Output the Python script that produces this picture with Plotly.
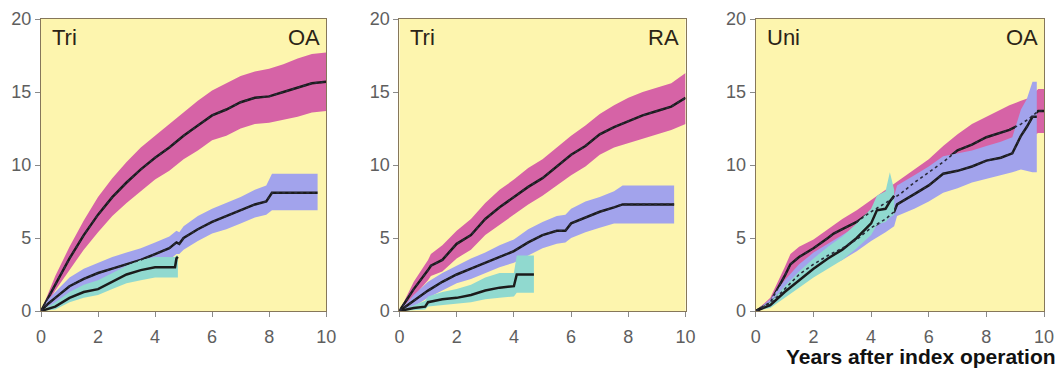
import plotly.graph_objects as go

# ---------------- data ----------------
titles_left = ["Tri", "Tri", "Uni"]
titles_right = ["OA", "RA", "OA"]
x_ticks = [0, 2, 4, 6, 8, 10]
y_ticks = [0, 5, 10, 15, 20]
x_label = "Years after index operation"

# Panel 1 (Tri / OA)
p1_pink_t = [0, 0.25, 0.5, 1, 1.5, 2, 2.5, 3, 3.5, 4, 4.5, 5, 5.5, 6, 6.5, 7, 7.5, 8, 8.5, 9, 9.5, 10]
p1_pink_c = [0, 0.9, 1.9, 3.6, 5.2, 6.6, 7.8, 8.8, 9.7, 10.5, 11.2, 12.0, 12.7, 13.4, 13.8, 14.3, 14.6, 14.7, 15.0, 15.3, 15.6, 15.7]
p1_pink_u = [0, 1.2, 2.4, 4.4, 6.2, 7.8, 9.1, 10.2, 11.2, 12.0, 12.8, 13.6, 14.4, 15.1, 15.6, 16.1, 16.4, 16.6, 16.9, 17.3, 17.6, 17.7]
p1_pink_l = [0, 0.6, 1.4, 2.8, 4.2, 5.4, 6.5, 7.4, 8.2, 9.0, 9.6, 10.4, 11.0, 11.7, 12.0, 12.5, 12.8, 12.9, 13.1, 13.3, 13.6, 13.7]

p1_blue_t = [0, 0.25, 0.5, 1, 1.5, 2, 2.5, 3, 3.5, 4, 4.5, 4.75, 4.85, 5, 5.5, 6, 6.5, 7, 7.5, 7.9, 8.1, 9.7]
p1_blue_c = [0, 0.5, 0.9, 1.7, 2.2, 2.6, 2.9, 3.2, 3.5, 3.9, 4.3, 4.7, 4.6, 5.0, 5.6, 6.1, 6.5, 6.9, 7.3, 7.5, 8.1, 8.1]
p1_blue_u = [0, 0.8, 1.3, 2.3, 2.9, 3.3, 3.7, 4.0, 4.3, 4.7, 5.1, 5.5, 5.4, 5.8, 6.5, 7.0, 7.4, 7.8, 8.3, 8.6, 9.4, 9.4]
p1_blue_l = [0, 0.3, 0.5, 1.1, 1.5, 1.9, 2.2, 2.5, 2.8, 3.2, 3.5, 3.9, 3.9, 4.2, 4.8, 5.3, 5.6, 6.0, 6.4, 6.6, 6.9, 6.9]

p1_cyan_t = [0, 0.5, 1, 1.5, 2, 2.5, 3, 3.5, 4, 4.3, 4.7, 4.75, 4.8]
p1_cyan_c = [0, 0.3, 0.9, 1.3, 1.5, 2.0, 2.5, 2.8, 3.0, 3.0, 3.0, 3.6, 3.7]
p1_cyan_u = [0, 0.6, 1.3, 1.8, 2.1, 2.6, 3.1, 3.5, 3.7, 3.7, 3.7, 3.8, 3.8]
p1_cyan_l = [0, 0.1, 0.6, 0.9, 1.1, 1.5, 1.9, 2.1, 2.3, 2.3, 2.3, 2.3, 2.3]

# Panel 2 (Tri / RA)
p2_pink_t = [0, 0.5, 1, 1.1, 1.5, 2, 2.5, 3, 3.5, 4, 4.5, 5, 5.5, 6, 6.5, 7, 7.5, 8, 8.5, 9, 9.5, 10]
p2_pink_c = [0, 1.5, 2.8, 3.1, 3.5, 4.6, 5.2, 6.3, 7.1, 7.8, 8.5, 9.1, 9.9, 10.7, 11.3, 12.1, 12.6, 13.0, 13.4, 13.7, 14.0, 14.6]
p2_pink_u = [0, 2.0, 3.5, 3.9, 4.5, 5.5, 6.3, 7.4, 8.3, 9.0, 9.8, 10.4, 11.2, 12.0, 12.7, 13.5, 14.1, 14.6, 15.0, 15.3, 15.6, 16.3]
p2_pink_l = [0, 1.0, 2.1, 2.4, 2.7, 3.6, 4.2, 5.2, 5.9, 6.6, 7.3, 7.9, 8.6, 9.3, 9.9, 10.7, 11.2, 11.5, 11.8, 12.1, 12.4, 12.8]

p2_blue_t = [0, 0.5, 1, 1.5, 2, 2.5, 3, 3.5, 4, 4.5, 5, 5.5, 5.8, 6, 6.5, 7, 7.5, 7.8, 9.6]
p2_blue_c = [0, 0.7, 1.4, 2.0, 2.5, 2.9, 3.3, 3.7, 4.1, 4.7, 5.2, 5.5, 5.5, 6.0, 6.4, 6.8, 7.1, 7.3, 7.3]
p2_blue_u = [0, 1.1, 2.0, 2.6, 3.1, 3.6, 4.0, 4.5, 4.9, 5.6, 6.1, 6.5, 6.6, 7.0, 7.5, 7.8, 8.2, 8.6, 8.6]
p2_blue_l = [0, 0.3, 0.9, 1.4, 1.9, 2.2, 2.6, 3.0, 3.3, 3.8, 4.3, 4.6, 4.7, 5.0, 5.4, 5.7, 6.0, 6.0, 6.0]

p2_cyan_t = [0, 0.5, 0.9, 1, 1.5, 2, 2.5, 3, 3.5, 4, 4.1, 4.7]
p2_cyan_c = [0, 0.2, 0.3, 0.6, 0.8, 0.9, 1.1, 1.4, 1.6, 1.7, 2.5, 2.5]
p2_cyan_u = [0, 0.4, 0.7, 1.0, 1.3, 1.5, 1.8, 2.3, 2.6, 2.6, 3.8, 3.8]
p2_cyan_l = [0, 0.05, 0.1, 0.3, 0.4, 0.5, 0.6, 0.8, 0.9, 1.0, 1.25, 1.25]

# Panel 3 (Uni / OA)
p3_pink_t = [0, 0.5, 1, 1.2, 1.5, 2, 2.5, 2.7, 3, 3.5, 4, 4.5, 5, 5.5, 6, 6.5, 7, 7.5, 8, 8.5, 8.8, 9.2, 9.5, 9.8, 10]
p3_pink_c = [0, 0.6, 2.4, 3.2, 3.7, 4.3, 5.0, 5.3, 5.6, 6.1, 6.8, 7.4, 8.0, 8.8, 9.5, 10.2, 11.0, 11.4, 11.9, 12.2, 12.4, 12.8, 13.2, 13.7, 13.7]
p3_pink_u = [0, 0.9, 3.0, 3.9, 4.4, 4.9, 5.6, 5.9, 6.3, 6.9, 7.6, 8.3, 9.0, 9.7, 10.4, 11.3, 12.1, 12.8, 13.3, 13.8, 14.1, 14.4, 14.6, 15.2, 15.2]
p3_pink_l = [0, 0.3, 1.8, 2.5, 3.0, 3.7, 4.4, 4.7, 4.9, 5.3, 6.0, 6.5, 7.0, 8.0, 8.7, 9.4, 10.3, 10.6, 10.9, 11.0, 11.1, 11.5, 11.9, 12.2, 12.2]

p3_blue_t = [0, 0.5, 1, 1.5, 2, 2.5, 3, 3.5, 4, 4.5, 4.8, 4.9, 5.5, 6, 6.5, 7, 7.5, 8, 8.5, 8.9, 9.2, 9.4, 9.6, 9.75]
p3_blue_c = [0, 0.5, 1.5, 2.5, 3.2, 3.8, 4.3, 4.9, 5.7, 6.3, 6.8, 7.3, 8.0, 8.6, 9.4, 9.6, 9.9, 10.3, 10.5, 10.8, 12.0, 12.6, 13.3, 13.3]
p3_blue_u = [0, 0.8, 2.1, 3.2, 4.0, 4.6, 5.2, 5.8, 6.7, 7.3, 7.9, 8.6, 9.3, 9.9, 10.6, 10.8, 11.0, 11.3, 11.6, 11.9, 13.8, 14.5, 15.7, 15.7]
p3_blue_l = [0, 0.3, 1.0, 1.9, 2.5, 3.1, 3.5, 4.1, 4.8, 5.4, 5.8, 6.5, 7.0, 7.5, 8.1, 8.4, 8.8, 9.1, 9.3, 9.5, 9.7, 9.6, 9.5, 9.5]

p3_cyan_t = [0, 0.5, 1, 1.5, 2, 2.5, 3, 3.5, 4, 4.2, 4.5, 4.65, 4.8]
p3_cyan_c = [0, 0.4, 1.3, 2.1, 2.9, 3.6, 4.2, 5.0, 6.0, 6.9, 7.0, 7.5, 7.9]
p3_cyan_u = [0, 0.6, 1.7, 2.7, 3.6, 4.4, 5.1, 6.0, 7.0, 7.9, 8.2, 9.5, 8.3]
p3_cyan_l = [0, 0.2, 0.9, 1.6, 2.3, 2.9, 3.5, 4.3, 5.2, 5.9, 6.1, 6.4, 6.6]

panels = [
    [(p1_pink_t, p1_pink_c, p1_pink_u, p1_pink_l),
     (p1_blue_t, p1_blue_c, p1_blue_u, p1_blue_l),
     (p1_cyan_t, p1_cyan_c, p1_cyan_u, p1_cyan_l)],
    [(p2_pink_t, p2_pink_c, p2_pink_u, p2_pink_l),
     (p2_blue_t, p2_blue_c, p2_blue_u, p2_blue_l),
     (p2_cyan_t, p2_cyan_c, p2_cyan_u, p2_cyan_l)],
    [(p3_pink_t, p3_pink_c, p3_pink_u, p3_pink_l),
     (p3_blue_t, p3_blue_c, p3_blue_u, p3_blue_l),
     (p3_cyan_t, p3_cyan_c, p3_cyan_u, p3_cyan_l)],
]

# ---------------- styling ----------------
band_colors = ["#d663a6", "#a2a3ec", "#90d9cf"]
bg_color = "#fdf5ae"
frame_color = "#86775a"
tick_color = "#5e5e5e"
line_color = "#1b1b1b"
font_family = "Liberation Sans, Arial, sans-serif"

W, H = 1063, 368
ML, MR, MT, MB = 41, 9, 18, 57
plot_w = W - ML - MR
domains = [
    [0.0, 288 / plot_w],
    [(403 - ML) / plot_w, (692 - ML) / plot_w],
    [(763 - ML) / plot_w, 1.0],
]

fig = go.Figure()

for i, series in enumerate(panels):
    xa = "x" if i == 0 else f"x{i+1}"
    ya = "y" if i == 0 else f"y{i+1}"
    for (t, c, u, l), col in zip(series, band_colors):
        fig.add_trace(go.Scatter(
            x=list(t) + list(t)[::-1], y=list(u) + list(l)[::-1],
            fill="toself", fillcolor=col, line=dict(width=0, color=col),
            mode="lines", hoverinfo="skip", showlegend=False, xaxis=xa, yaxis=ya))
        fig.add_trace(go.Scatter(
            x=t, y=c, mode="lines", line=dict(color=line_color, width=2.5),
            showlegend=False, xaxis=xa, yaxis=ya))
    # lines hidden beneath later bands show through as dotted
    for (t, c, u, l) in series[:2]:
        fig.add_trace(go.Scatter(
            x=t, y=c, mode="lines", line=dict(color="#2a2a3a", width=1.6, dash="dot"),
            showlegend=False, xaxis=xa, yaxis=ya))

axis_common = dict(
    showline=True, mirror=True, linecolor=frame_color, linewidth=1.3,
    ticks="outside", ticklen=5, tickcolor="#8a8a8a", tickwidth=1,
    showgrid=False, zeroline=False,
    tickfont=dict(family=font_family, size=18, color=tick_color),
)

layout = dict(
    width=W, height=H,
    margin=dict(l=ML, r=MR, t=MT, b=MB),
    paper_bgcolor="white",
    plot_bgcolor=bg_color,
    showlegend=False,
    annotations=[],
)
for i in range(3):
    xk = "xaxis" if i == 0 else f"xaxis{i+1}"
    yk = "yaxis" if i == 0 else f"yaxis{i+1}"
    xa = "x" if i == 0 else f"x{i+1}"
    ya = "y" if i == 0 else f"y{i+1}"
    layout[xk] = dict(axis_common, domain=domains[i], range=[0, 10], tickvals=x_ticks,
                      anchor=ya, ticklabelstandoff=4)
    layout[yk] = dict(axis_common, domain=[0, 1], range=[0, 20], tickvals=y_ticks,
                      anchor=xa)
    layout["annotations"].append(dict(
        x=0.3, y=19.7, xref=xa, yref=ya, text=titles_left[i], showarrow=False,
        xanchor="left", yanchor="top",
        font=dict(family=font_family, size=22, color="#2b2416")))
    layout["annotations"].append(dict(
        x=9.85, y=19.7, xref=xa, yref=ya, text=titles_right[i], showarrow=False,
        xanchor="right", yanchor="top",
        font=dict(family=font_family, size=22, color="#2b2416")))

layout["annotations"].append(dict(
    x=1.0, y=-0.157, xref="paper", yref="paper", text=f"<b>{x_label}</b>",
    showarrow=False, xanchor="right", yanchor="middle", xshift=14,
    font=dict(family=font_family, size=21, color="#111111")))

fig.update_layout(**layout)
fig.write_html("out.html")
